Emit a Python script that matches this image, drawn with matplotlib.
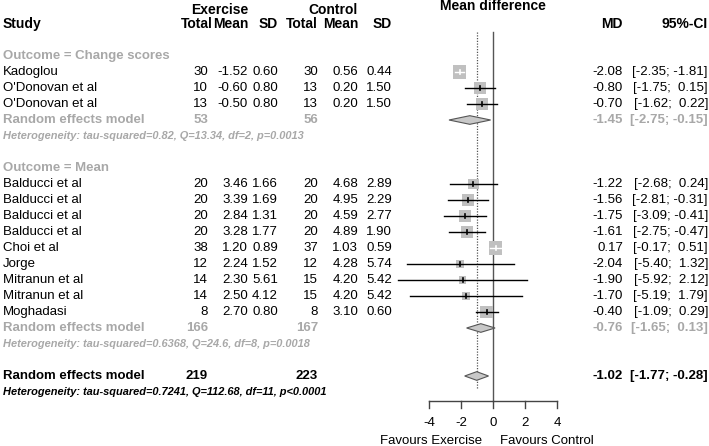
import matplotlib
matplotlib.use('Agg')
import matplotlib.pyplot as plt
from matplotlib.patches import Rectangle, Polygon
import numpy as np

plt.rcParams['font.family'] = ['Liberation Sans', 'DejaVu Sans']

# study level data
studies = ["Kadoglou", "O'Donovan et al", "O'Donovan et al",
           "Balducci et al", "Balducci et al", "Balducci et al", "Balducci et al",
           "Choi et al", "Jorge", "Mitranun et al", "Mitranun et al", "Moghadasi"]
group = [0, 0, 0, 1, 1, 1, 1, 1, 1, 1, 1, 1]
n_e = [30, 10, 13, 20, 20, 20, 20, 38, 12, 14, 14, 8]
mean_e = [-1.52, -0.60, -0.50, 3.46, 3.39, 2.84, 3.28, 1.20, 2.24, 2.30, 2.50, 2.70]
sd_e = [0.60, 0.80, 0.80, 1.66, 1.69, 1.31, 1.77, 0.89, 1.52, 5.61, 4.12, 0.80]
n_c = [30, 13, 13, 20, 20, 20, 20, 37, 12, 15, 15, 8]
mean_c = [0.56, 0.20, 0.20, 4.68, 4.95, 4.59, 4.89, 1.03, 4.28, 4.20, 4.20, 3.10]
sd_c = [0.44, 1.50, 1.50, 2.89, 2.29, 2.77, 1.90, 0.59, 5.74, 5.42, 5.42, 0.60]
md = [-2.08, -0.80, -0.70, -1.22, -1.56, -1.75, -1.61, 0.17, -2.04, -1.90, -1.70, -0.40]
ci_lo = [-2.35, -1.75, -1.62, -2.68, -2.81, -3.09, -2.75, -0.17, -5.40, -5.92, -5.19, -1.09]
ci_hi = [-1.81, 0.15, 0.22, 0.24, -0.31, -0.41, -0.47, 0.51, 1.32, 2.12, 1.79, 0.29]
weights = [13.3, 10.3, 10.5, 7.7, 8.7, 8.3, 9.3, 13.1, 2.7, 2.0, 2.5, 11.6]

# subgroups
sub_names = ["Outcome = Change scores", "Outcome = Mean"]
sub_ne = [53, 166]
sub_nc = [56, 167]
sub_md = [-1.45, -0.76]
sub_lo = [-2.75, -1.65]
sub_hi = [-0.15, 0.13]
sub_het = ["Heterogeneity: tau-squared=0.82, Q=13.34, df=2, p=0.0013",
           "Heterogeneity: tau-squared=0.6368, Q=24.6, df=8, p=0.0018"]

# overall
all_ne, all_nc = 219, 223
all_md, all_lo, all_hi = -1.02, -1.77, -0.28
all_het = "Heterogeneity: tau-squared=0.7241, Q=112.68, df=11, p<0.0001"

xticks = [-4, -2, 0, 2, 4]
lab_left, lab_right = "Favours Exercise", "Favours Control"

W, H = 709, 446
X0, PXU = 493, 16.0      # px of MD=0, px per unit
Y0, ROW = 56, 16.0       # px of first row, px per row
GRAY = '#a8a8a8'
FS = 9.5
HDR = 10
HFS = 7.9

fig = plt.figure(figsize=(W / 100, H / 100), dpi=100)
tax = fig.add_axes([0, 0, 1, 1])
tax.set_xlim(0, W); tax.set_ylim(H, 0); tax.axis('off')
fax = fig.add_axes([0, 0, 1, 1])
fax.set_xlim(-X0 / PXU, (W - X0) / PXU)
fax.set_ylim((H - Y0) / ROW, -Y0 / ROW)
fax.axis('off'); fax.patch.set_alpha(0)

def py(k):
    return Y0 + ROW * k

def ci_str(lo, hi):
    return f"[{lo:5.2f}; {hi:5.2f}]"

# column positions (px, right edges)
c_te, c_me, c_se, c_tc, c_mc, c_sc, c_md, c_ci = 208, 248, 278, 318, 358, 392, 623, 708

# header
hk = -2
tax.text(3, py(hk), "Study", fontsize=HDR, weight='bold', va='center')
for x, s in [(213, "Total"), (c_me, "Mean"), (c_se, "SD"), (c_tc, "Total"),
             (c_mc, "Mean"), (c_sc, "SD"), (c_md, "MD"), (c_ci, "95%-CI")]:
    tax.text(x, py(hk), s, fontsize=HDR, weight='bold', va='center', ha='right')
tax.text(c_me, py(hk) - 14, "Exercise", fontsize=HDR, weight='bold', va='center', ha='right')
tax.text(c_mc, py(hk) - 14, "Control", fontsize=HDR, weight='bold', va='center', ha='right')
tax.text(X0, py(hk) - 18, "Mean difference", fontsize=HDR, weight='bold', va='center', ha='center')

def square(ax, k, i):
    side = (4 + 2.5 * np.sqrt(weights[i])) / PXU
    ax.add_patch(Rectangle((md[i] - side / 2, k - side / 2), side, side,
                           facecolor='#c0c0c0', edgecolor='none', zorder=2))
    inside = ci_lo[i] >= md[i] - side / 2 and ci_hi[i] <= md[i] + side / 2
    col = 'white' if inside else 'black'
    ax.plot([ci_lo[i], ci_hi[i]], [k, k], color=col, lw=1, zorder=3)
    ax.plot([md[i], md[i]], [k - 0.12, k + 0.12], color=col, lw=1.2, zorder=3)

def diamond(ax, k, m, lo, hi):
    h = 0.27
    ax.add_patch(Polygon([(lo, k), (m, k - h), (hi, k), (m, k + h)], closed=True,
                         facecolor='#c8c8c8', edgecolor='#555555', lw=0.8, zorder=3))

k = 0
for g in range(len(sub_names)):
    tax.text(3, py(k), sub_names[g], fontsize=FS, weight='bold', color=GRAY, va='center')
    k += 1
    for i in range(len(studies)):
        if group[i] != g:
            continue
        y = py(k)
        tax.text(3, y, studies[i], fontsize=FS, va='center')
        vals = [(c_te, f"{n_e[i]}"), (c_me, f"{mean_e[i]:.2f}"), (c_se, f"{sd_e[i]:.2f}"),
                (c_tc, f"{n_c[i]}"), (c_mc, f"{mean_c[i]:.2f}"), (c_sc, f"{sd_c[i]:.2f}"),
                (c_md, f"{md[i]:.2f}"), (c_ci, ci_str(ci_lo[i], ci_hi[i]))]
        for x, s in vals:
            tax.text(x, y, s, fontsize=FS, va='center', ha='right')
        square(fax, k, i)
        k += 1
    y = py(k)
    tax.text(3, y, "Random effects model", fontsize=FS, weight='bold', color=GRAY, va='center')
    tax.text(c_te, y, f"{sub_ne[g]}", fontsize=FS, weight='bold', color=GRAY, va='center', ha='right')
    tax.text(c_tc, y, f"{sub_nc[g]}", fontsize=FS, weight='bold', color=GRAY, va='center', ha='right')
    tax.text(c_md, y, f"{sub_md[g]:.2f}", fontsize=FS, weight='bold', color=GRAY, va='center', ha='right')
    tax.text(c_ci, y, ci_str(sub_lo[g], sub_hi[g]), fontsize=FS, weight='bold', color=GRAY,
             va='center', ha='right')
    diamond(fax, k, sub_md[g], sub_lo[g], sub_hi[g])
    k += 1
    tax.text(3, py(k), sub_het[g], fontsize=HFS, weight='bold', style='italic', color=GRAY, va='center')
    k += 2

# overall
y = py(k)
tax.text(3, y, "Random effects model", fontsize=FS, weight='bold', va='center')
tax.text(c_te, y, f"{all_ne}", fontsize=FS, weight='bold', va='center', ha='right')
tax.text(c_tc, y, f"{all_nc}", fontsize=FS, weight='bold', va='center', ha='right')
tax.text(c_md, y, f"{all_md:.2f}", fontsize=FS, weight='bold', va='center', ha='right')
tax.text(c_ci, y, ci_str(all_lo, all_hi), fontsize=FS, weight='bold', va='center', ha='right')
diamond(fax, k, all_md, all_lo, all_hi)
k += 1
tax.text(3, py(k), all_het, fontsize=HFS, weight='bold', style='italic', va='center')

# reference lines
top = (32 - Y0) / ROW
axis_k = (401 - Y0) / ROW
fax.plot([0, 0], [top, axis_k], color='#555555', lw=1, zorder=1)
fax.plot([all_md, all_md], [top, (388 - Y0) / ROW], color='#555555', lw=0.9,
         ls=(0, (1, 1.2)), zorder=1)

# x axis
fax.plot([xticks[0], xticks[-1]], [axis_k, axis_k], color='#444444', lw=1)
for t in xticks:
    fax.plot([t, t], [axis_k, axis_k + 7 / ROW], color='#444444', lw=1)
    fax.text(t, axis_k + 22 / ROW, f"{t}", fontsize=FS, ha='center', va='center')
fax.text(-11 / PXU, axis_k + 40 / ROW, lab_left, fontsize=FS, ha='right', va='center')
fax.text(7 / PXU, axis_k + 40 / ROW, lab_right, fontsize=FS, ha='left', va='center')

fig.savefig('out.png', dpi=100, facecolor='white')
